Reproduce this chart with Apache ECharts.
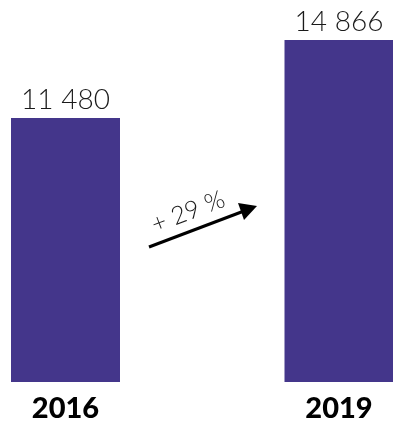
<!DOCTYPE html>
<html>
<head>
<meta charset="utf-8">
<script src="https://cdn.jsdelivr.net/npm/echarts@6/dist/echarts.min.js"></script>
<style>
  html, body { margin: 0; padding: 0; background: #fff; }
  #chart { width: 393px; height: 423px; }
</style>
</head>
<body>
<div id="chart"></div>
<script>
const years = ['2016', '2019']
const visitors = [11480, 14866]
const growthLabel = '+ 29 %'

const fmt = v => String(v).replace(/\B(?=(\d{3})+(?!\d))/g, ' ')

const myChart = echarts.init(document.getElementById('chart'))
const option = {
  animation: false,
  grid: { left: 65.5, right: 54, top: 14, bottom: 40 },
  xAxis: {
    type: 'category',
    data: years,
    boundaryGap: false,
    axisLine: { show: false },
    axisTick: { show: false },
    axisLabel: {
      margin: 12,
      color: '#000',
      fontFamily: 'Lato',
      fontWeight: 900,
      fontSize: 29
    }
  },
  yAxis: {
    type: 'value',
    min: 0,
    max: 16000,
    show: false
  },
  series: [
    {
      type: 'bar',
      data: visitors,
      barWidth: 109,
      clip: false,
      itemStyle: { color: '#44368B' },
      label: {
        show: true,
        position: 'top',
        distance: 4,
        color: '#1a1a1a',
        fontFamily: 'Lato',
        fontWeight: 300,
        fontSize: 28,
        formatter: p => fmt(p.value)
      }
    }
  ],
  // growth arrow between the two bars
  graphic: [
    {
      type: 'line',
      shape: { x1: 149, y1: 247, x2: 244, y2: 211 },
      style: { stroke: '#000', lineWidth: 3 }
    },
    {
      type: 'polygon',
      shape: { points: [[257, 206], [238, 203], [244, 220]] },
      style: { fill: '#000' }
    },
    {
      type: 'text',
      x: 188,
      y: 212,
      rotation: 21 * Math.PI / 180,
      style: {
        text: growthLabel,
        fill: '#1a1a1a',
        font: '300 25px Lato',
        align: 'center',
        verticalAlign: 'middle'
      }
    }
  ]
}
option && myChart.setOption(option)
</script>
</body>
</html>
